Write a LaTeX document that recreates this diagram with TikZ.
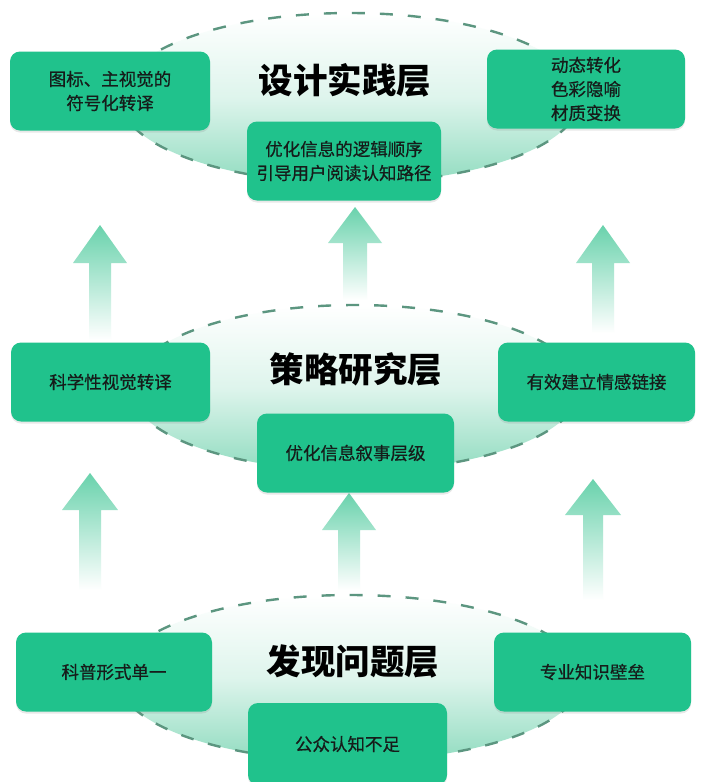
\documentclass[tikz,border=0pt]{standalone}
\usepackage{fontspec}
\newfontfamily\cjk{Noto Sans CJK SC}
\newfontfamily\cjkmed[FakeBold=0.6]{Noto Sans CJK SC}
\usetikzlibrary{shadows}
\definecolor{boxgreen}{RGB}{32,194,140}
\definecolor{ellmint}{RGB}{145,220,192}
\definecolor{arrmint}{RGB}{105,210,172}
\definecolor{dashcol}{RGB}{92,150,128}
\definecolor{txtdark}{RGB}{22,28,26}
\tikzset{
  layerfill/.style={top color=white, bottom color=ellmint, middle color=ellmint!30, draw=none},
  layerline/.style={draw=dashcol, line width=2.4pt, dash pattern=on 13pt off 15pt},
  itembox/.style={rounded corners=10pt, fill=boxgreen, draw=none, minimum height=79pt,
    align=center, font=\cjkmed\fontsize{17.5}{24}\selectfont, text=txtdark,
    drop shadow={opacity=0.18, shadow xshift=0pt, shadow yshift=-2pt}},
  layertitle/.style={font=\cjk\bfseries\fontsize{34.5}{36}\selectfont, text=black},
  uparrow/.style={top color=arrmint, middle color=arrmint!40, bottom color=white, draw=none}
}
\newcommand{\uparr}[6]{% x, tip y, base y, head half, shaft half, bottom y
  \path[uparrow] (#1,#2) -- (#1+#4,#3) -- (#1+#5,#3) -- (#1+#5,#6) -- (#1-#5,#6) -- (#1-#5,#3) -- (#1-#4,#3) -- cycle;}
\begin{document}
\begin{tikzpicture}[x=1pt,y=-1pt]
\useasboundingbox[fill=white] (0,0) rectangle (701,782);
\begin{scope}
\clip (0,0) rectangle (701,782);
% layer ellipses
\path[layerfill] (350,98) ellipse [x radius=230, y radius=85];
\draw[layerline] (350,98) ellipse [x radius=230, y radius=85];
\path[layerfill] (355,388) ellipse [x radius=225, y radius=83];
\draw[layerline] (355,388) ellipse [x radius=225, y radius=83];
\path[layerfill] (350,678) ellipse [x radius=232, y radius=83];
\draw[layerline] (350,678) ellipse [x radius=232, y radius=83];
% arrows
\uparr{100}{225}{263}{27}{11}{340}
\uparr{355}{207}{243}{27}{12}{300}
\uparr{603}{225}{263}{27}{11}{333}
\uparr{90}{473}{510}{28}{11}{590}
\uparr{349}{493}{530}{27}{11}{590}
\uparr{593}{479}{515}{28}{10}{600}
% top layer
\node[itembox, minimum width=200pt] (t1) at (110,91) {图标、主视觉的\\符号化转译};
\node[itembox, minimum width=198pt] (t3) at (586,89) {动态转化\\色彩隐喻\\材质变换};
\node[itembox, minimum width=194pt] (t2) at (344,161) {优化信息的逻辑顺序\\引导用户阅读认知路径};
\node[layertitle] (tt) at (345,80) {设计实践层};
% middle layer
\node[itembox, minimum width=199pt] (m1) at (110.5,382) {科学性视觉转译};
\node[itembox, minimum width=197pt] (m3) at (596.5,382) {有效建立情感链接};
\node[itembox, minimum width=197pt] (m2) at (355.5,453) {优化信息叙事层级};
\node[layertitle] (mt) at (356,369) {策略研究层};
% bottom layer
\node[itembox, minimum width=196pt] (b1) at (114,672) {科普形式单一};
\node[itembox, minimum width=197pt] (b3) at (592.5,672) {专业知识壁垒};
\node[itembox, minimum width=199pt, minimum height=82pt] (b2) at (347.5,744) {公众认知不足};
\node[layertitle] (bt) at (353,661) {发现问题层};
\end{scope}
\end{tikzpicture}
\end{document}
